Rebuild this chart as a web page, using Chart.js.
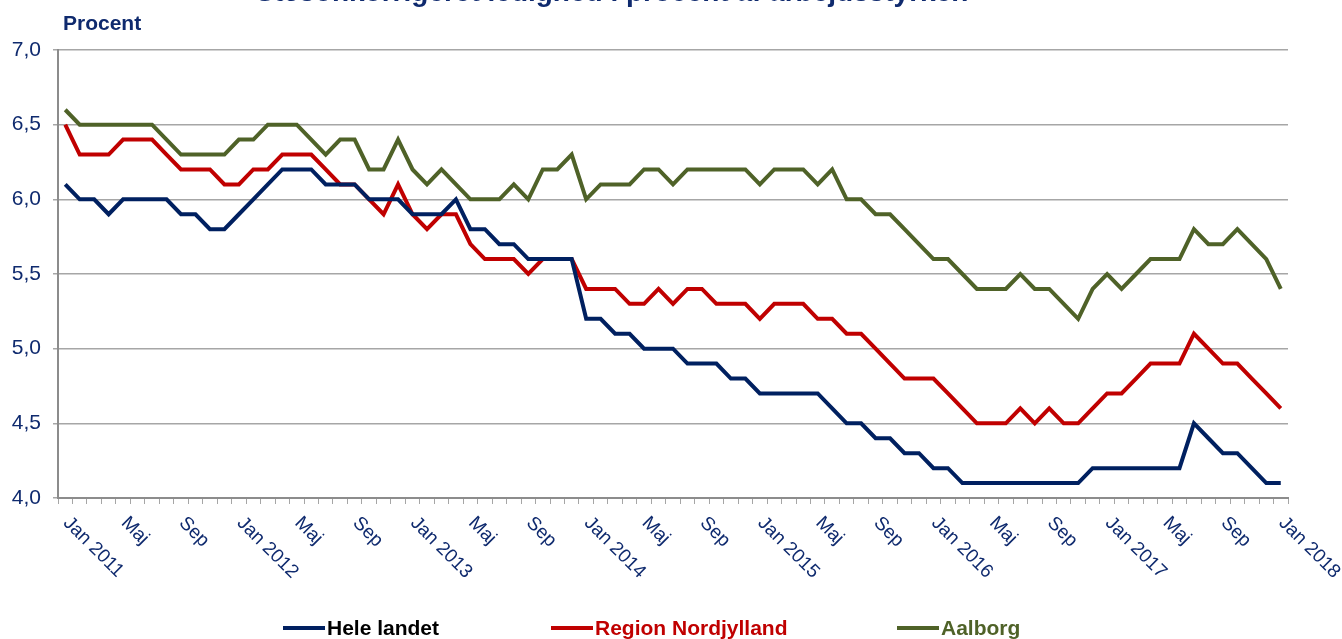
<!DOCTYPE html>
<html>
<head>
<meta charset="utf-8">
<script src="https://cdn.jsdelivr.net/npm/chart.js@4/dist/chart.umd.min.js"></script>
<style>
  html, body { margin: 0; padding: 0; background: #fff; }
  #wrap { width: 1342px; height: 639px; }
</style>
</head>
<body>
<div id="wrap"><canvas id="ledighed" width="1342" height="639"></canvas></div>
<script>
// månedlige tal jan 2011 - jan 2018
const monthNames = ['Jan', 'Feb', 'Mar', 'Apr', 'Maj', 'Jun', 'Jul', 'Aug', 'Sep', 'Okt', 'Nov', 'Dec'];
const labels = [];
for (let y = 2011; y <= 2018; y++) {
    for (let m = 0; m < 12; m++) {
        if (y === 2018 && m > 0) break;
        labels.push(m === 0 ? 'Jan ' + y : monthNames[m]);
    }
}

const heleLandet = [
    6.1, 6.0, 6.0, 5.9, 6.0, 6.0, 6.0, 6.0, 5.9, 5.9, 5.8, 5.8,
    5.9, 6.0, 6.1, 6.2, 6.2, 6.2, 6.1, 6.1, 6.1, 6.0, 6.0, 6.0,
    5.9, 5.9, 5.9, 6.0, 5.8, 5.8, 5.7, 5.7, 5.6, 5.6, 5.6, 5.6,
    5.2, 5.2, 5.1, 5.1, 5.0, 5.0, 5.0, 4.9, 4.9, 4.9, 4.8, 4.8,
    4.7, 4.7, 4.7, 4.7, 4.7, 4.6, 4.5, 4.5, 4.4, 4.4, 4.3, 4.3,
    4.2, 4.2, 4.1, 4.1, 4.1, 4.1, 4.1, 4.1, 4.1, 4.1, 4.1, 4.2,
    4.2, 4.2, 4.2, 4.2, 4.2, 4.2, 4.5, 4.4, 4.3, 4.3, 4.2, 4.1,
    4.1
];
const nordjylland = [
    6.5, 6.3, 6.3, 6.3, 6.4, 6.4, 6.4, 6.3, 6.2, 6.2, 6.2, 6.1,
    6.1, 6.2, 6.2, 6.3, 6.3, 6.3, 6.2, 6.1, 6.1, 6.0, 5.9, 6.1,
    5.9, 5.8, 5.9, 5.9, 5.7, 5.6, 5.6, 5.6, 5.5, 5.6, 5.6, 5.6,
    5.4, 5.4, 5.4, 5.3, 5.3, 5.4, 5.3, 5.4, 5.4, 5.3, 5.3, 5.3,
    5.2, 5.3, 5.3, 5.3, 5.2, 5.2, 5.1, 5.1, 5.0, 4.9, 4.8, 4.8,
    4.8, 4.7, 4.6, 4.5, 4.5, 4.5, 4.6, 4.5, 4.6, 4.5, 4.5, 4.6,
    4.7, 4.7, 4.8, 4.9, 4.9, 4.9, 5.1, 5.0, 4.9, 4.9, 4.8, 4.7,
    4.6
];
const aalborg = [
    6.6, 6.5, 6.5, 6.5, 6.5, 6.5, 6.5, 6.4, 6.3, 6.3, 6.3, 6.3,
    6.4, 6.4, 6.5, 6.5, 6.5, 6.4, 6.3, 6.4, 6.4, 6.2, 6.2, 6.4,
    6.2, 6.1, 6.2, 6.1, 6.0, 6.0, 6.0, 6.1, 6.0, 6.2, 6.2, 6.3,
    6.0, 6.1, 6.1, 6.1, 6.2, 6.2, 6.1, 6.2, 6.2, 6.2, 6.2, 6.2,
    6.1, 6.2, 6.2, 6.2, 6.1, 6.2, 6.0, 6.0, 5.9, 5.9, 5.8, 5.7,
    5.6, 5.6, 5.5, 5.4, 5.4, 5.4, 5.5, 5.4, 5.4, 5.3, 5.2, 5.4,
    5.5, 5.4, 5.5, 5.6, 5.6, 5.6, 5.8, 5.7, 5.7, 5.8, 5.7, 5.6,
    5.4
];

const seriesNames = ['Hele landet', 'Region Nordjylland', 'Aalborg'];
const seriesColors = ['#002060', '#c00000', '#4f6228'];
const legendTextColors = ['#000000', '#c00000', '#4f6228'];

const navy = '#0f2a6e';
const gridGray = '#a6a6a6';
const fontFam = '"Liberation Sans", Arial, sans-serif';

function makeSet(i, values) {
    return {
        label: seriesNames[i],
        data: values,
        borderColor: seriesColors[i],
        backgroundColor: seriesColors[i],
        borderWidth: 4,
        pointRadius: 0,
        pointHoverRadius: 0,
        tension: 0,
        fill: false
    };
}

// x-akse tekster skråt nedad mod højre + forklaring i bunden
const extrasPlugin = {
    id: 'extras',
    afterDraw(chart) {
        const ctx = chart.ctx;
        const xs = chart.scales.x;
        ctx.save();

        // titel (skåret af i toppen ligesom originalen)
        ctx.fillStyle = navy;
        ctx.font = 'bold 28px ' + fontFam;
        ctx.textAlign = 'center';
        ctx.textBaseline = 'alphabetic';
        ctx.fillText('Sæsonkorrigeret ledighed i procent af arbejdsstyrken', 612, 1);

        ctx.font = '19px ' + fontFam;
        ctx.textAlign = 'left';
        ctx.textBaseline = 'middle';
        chart.data.labels.forEach((lab, i) => {
            if (i % 4 !== 0) return;
            const px = xs.getPixelForValue(i);
            ctx.save();
            ctx.translate(px + 1, 520);
            ctx.rotate(Math.PI / 4);
            ctx.fillText(lab, 0, 0);
            ctx.restore();
        });

        // "Procent"
        ctx.font = 'bold 21px ' + fontFam;
        ctx.textBaseline = 'alphabetic';
        ctx.fillText('Procent', 63, 30);

        // forklaring
        const legendX = [283, 551, 897];
        const yMid = 628;
        chart.data.datasets.forEach((ds, i) => {
            const x0 = legendX[i];
            ctx.strokeStyle = ds.borderColor;
            ctx.lineWidth = 4;
            ctx.beginPath();
            ctx.moveTo(x0, yMid);
            ctx.lineTo(x0 + 42, yMid);
            ctx.stroke();
            ctx.fillStyle = legendTextColors[i];
            ctx.font = 'bold 21px ' + fontFam;
            ctx.textBaseline = 'middle';
            ctx.fillText(ds.label, x0 + 44, yMid + 1);
        });
        ctx.restore();
    }
};

new Chart(document.getElementById('ledighed'), {
    type: 'line',
    data: {
        labels: labels,
        datasets: [makeSet(0, heleLandet), makeSet(1, nordjylland), makeSet(2, aalborg)]
    },
    options: {
        responsive: false,
        animation: false,
        layout: { padding: { top: 50, right: 54, left: 0, bottom: 0 } },
        plugins: {
            legend: { display: false },
            tooltip: { enabled: false },
            title: { display: false }
        },
        scales: {
            x: {
                type: 'category',
                offset: true,
                grid: {
                    offset: true,
                    drawOnChartArea: false,
                    drawTicks: true,
                    tickLength: 6,
                    color: gridGray,
                    lineWidth: 1
                },
                border: { display: true, color: '#8c8c8c', width: 2 },
                ticks: { display: false, autoSkip: false },
                afterFit(scale) { scale.height = 141; }
            },
            y: {
                min: 4,
                max: 7,
                grid: {
                    color: gridGray,
                    lineWidth: 1.5,
                    drawTicks: true,
                    tickLength: 5
                },
                border: { display: true, color: '#8c8c8c', width: 2 },
                ticks: {
                    stepSize: 0.5,
                    padding: 12,
                    color: navy,
                    font: { family: fontFam, size: 21 },
                    callback: v => v.toFixed(1).replace('.', ',')
                },
                afterFit(scale) { scale.width = 58; }
            }
        }
    },
    plugins: [extrasPlugin]
});
</script>
</body>
</html>
